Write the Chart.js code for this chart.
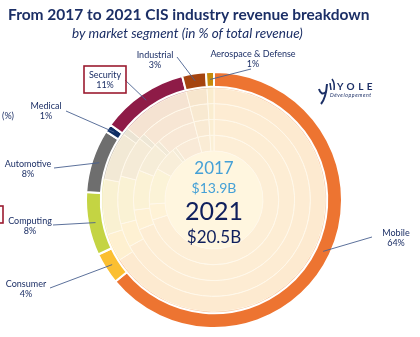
<!DOCTYPE html>
<html>
<head>
<meta charset="utf-8">
<script src="https://cdn.jsdelivr.net/npm/chart.js@4.4.1/dist/chart.umd.min.js"></script>
<style>
  html, body { margin: 0; padding: 0; background: #fff; }
  #wrap { width: 420px; height: 337px; position: relative; }
</style>
</head>
<body>
<div id="wrap"><canvas id="cis" width="420" height="337"></canvas></div>
<script>
// market segments, clockwise from 12 o'clock
const segments = ['Mobile', 'Consumer', 'Computing', 'Automotive', 'Medical', 'Security', 'Industrial', 'Aerospace & Defense']
const share2021 = [64, 4, 8, 8, 1, 11, 3, 1]
const share2020 = [66, 4, 8, 7, 1, 10, 3, 1]
const share2019 = [67, 4, 8, 7, 1, 9, 3, 1]
const share2018 = [69, 4, 8, 6, 1, 8, 3, 1]
const share2017 = [70, 4, 9, 6, 1, 6, 3, 1]
const centerYears = ['2017', '2021']
const centerRevenue = ['$13.9B', '$20.5B']
const titleText = 'From 2017 to 2021 CIS industry revenue breakdown'
const subtitleText = 'by market segment (in % of total revenue)'

const segColors = ['#ed7431', '#fbbf31', '#c4d443', '#6e6e6e', '#0e2d63', '#8e1b47', '#a5440f', '#c68b0b']
const navy = '#1c2f66'

// where each label sits (text centre) and where its leader line starts
const labelLayout = [
    { x: 396, y: 233, lx: 372, ly: 237 },
    { x: 26,  y: 284, lx: 50,  ly: 288 },
    { x: 30,  y: 221, lx: 53,  ly: 225 },
    { x: 28,  y: 164, lx: 54,  ly: 168 },
    { x: 46,  y: 106, lx: 66,  ly: 111 },
    { x: 105, y: 75,  lx: 125, ly: 80, box: true },
    { x: 155, y: 55,  lx: 177, ly: 57 },
    { x: 253, y: 54,  lx: 251, ly: 69 },
]

function fade(hex, a) {
    const base = [254, 244, 222]
    const c = [1, 3, 5].map(i => parseInt(hex.substr(i, 2), 16))
    const m = c.map((v, i) => Math.round(v * a + base[i] * (1 - a)))
    return `rgb(${m[0]},${m[1]},${m[2]})`
}

const innerRing = (values, a, label, w) => ({
    label: label,
    data: values,
    backgroundColor: segColors.map(c => fade(c, a)),
    borderColor: '#fff8ea',
    borderWidth: 1,
    weight: w,
})

const annotate = {
    id: 'annotate',
    beforeDatasetsDraw(chart) {
        const ctx = chart.ctx
        const arc = chart.getDatasetMeta(chart.data.datasets.length - 1).data[0]
        ctx.save()
        ctx.beginPath()
        ctx.arc(arc.x, arc.y, arc.innerRadius, 0, Math.PI * 2)
        ctx.fillStyle = '#fff6df'
        ctx.fill()
        ctx.restore()
    },
    afterDatasetsDraw(chart) {
        const ctx = chart.ctx
        const outer = chart.getDatasetMeta(0).data
        const cx = outer[0].x, cy = outer[0].y
        ctx.save()

        // title
        ctx.fillStyle = navy
        ctx.textAlign = 'left'
        ctx.textBaseline = 'alphabetic'
        ctx.font = 'bold 15.5px Lato'
        ctx.fillText(titleText, 8, 20)
        ctx.font = 'italic 13.5px Lato'
        ctx.fillText(subtitleText, 72, 38)

        // leader lines + labels
        ctx.lineWidth = 0.9
        ctx.strokeStyle = '#4a6190'
        labelLayout.forEach((p, i) => {
            const a = outer[i]
            const ang = (a.startAngle + a.endAngle) / 2
            const r = (a.innerRadius + a.outerRadius) / 2
            ctx.beginPath()
            ctx.moveTo(p.lx, p.ly)
            ctx.lineTo(a.x + Math.cos(ang) * r, a.y + Math.sin(ang) * r)
            ctx.stroke()
        })
        ctx.fillStyle = navy
        ctx.textAlign = 'center'
        ctx.textBaseline = 'middle'
        ctx.font = '9px Lato'
        labelLayout.forEach((p, i) => {
            ctx.fillText(segments[i], p.x, p.y)
            ctx.fillText(share2021[i] + '%', p.x, p.y + 10)
            if (p.box) {
                ctx.strokeStyle = '#9b1b30'
                ctx.lineWidth = 1.6
                ctx.strokeRect(p.x - 21, p.y - 9, 42, 27)
            }
        })
        // cut-off bits at the left edge
        ctx.fillText('(%)', 8, 116)
        ctx.strokeStyle = '#9b1b30'
        ctx.lineWidth = 1.6
        ctx.strokeRect(-40, 206, 43, 17)

        // centre text
        ctx.fillStyle = '#45a0d6'
        ctx.font = '17px Lato'
        ctx.fillText(centerYears[0], cx, cy - 31)
        ctx.font = '14px Lato'
        ctx.fillText(centerRevenue[0], cx, cy - 12)
        ctx.fillStyle = '#0f1f5c'
        ctx.font = '25px Lato'
        ctx.fillText(centerYears[1], cx, cy + 12)
        ctx.font = '17px Lato'
        ctx.fillText(centerRevenue[1], cx, cy + 38)

        // yole logo
        ctx.fillStyle = navy
        ctx.textAlign = 'left'
        ctx.font = 'bold 10px Lato'
        ctx.letterSpacing = '3.5px'
        ctx.fillText('YOLE', 337, 87)
        ctx.letterSpacing = '0.6px'
        ctx.font = 'italic 5.2px Lato'
        ctx.fillText('Développement', 330, 95)
        ctx.letterSpacing = '0px'
        ctx.strokeStyle = navy
        ctx.lineWidth = 2
        ctx.beginPath()
        ctx.moveTo(319, 89)
        ctx.quadraticCurveTo(321, 96, 326, 92)
        ctx.stroke()
        ctx.beginPath()
        ctx.moveTo(327, 84)
        ctx.quadraticCurveTo(326, 98, 321, 104)
        ctx.stroke()
        ctx.lineWidth = 1.5
        ctx.beginPath()
        ctx.moveTo(330, 83)
        ctx.lineTo(331, 90)
        ctx.moveTo(332, 79)
        ctx.quadraticCurveTo(335, 83, 334, 90)
        ctx.stroke()

        ctx.restore()
    }
}

new Chart(document.getElementById('cis'), {
    type: 'doughnut',
    data: {
        labels: segments,
        datasets: [
            { label: '2021', data: share2021, backgroundColor: segColors, borderColor: '#fff', borderWidth: 2, weight: 14 },
            { label: 'edge', data: share2020, backgroundColor: segColors.map(c => fade(c, 0.35)), borderColor: '#fff', borderWidth: 0, weight: 1.5 },
            innerRing(share2020, 0.08, '2020', 14.5),
            innerRing(share2019, 0.065, '2019', 15),
            innerRing(share2018, 0.055, '2018', 15),
            innerRing(share2017, 0.045, '2017', 15),
        ]
    },
    options: {
        responsive: false,
        animation: false,
        rotation: 0,
        cutout: 49,
        layout: { padding: { left: 85, right: 77, top: 71, bottom: 8 } },
        plugins: {
            legend: { display: false },
            tooltip: { enabled: false },
        }
    },
    plugins: [annotate]
})
</script>
</body>
</html>
